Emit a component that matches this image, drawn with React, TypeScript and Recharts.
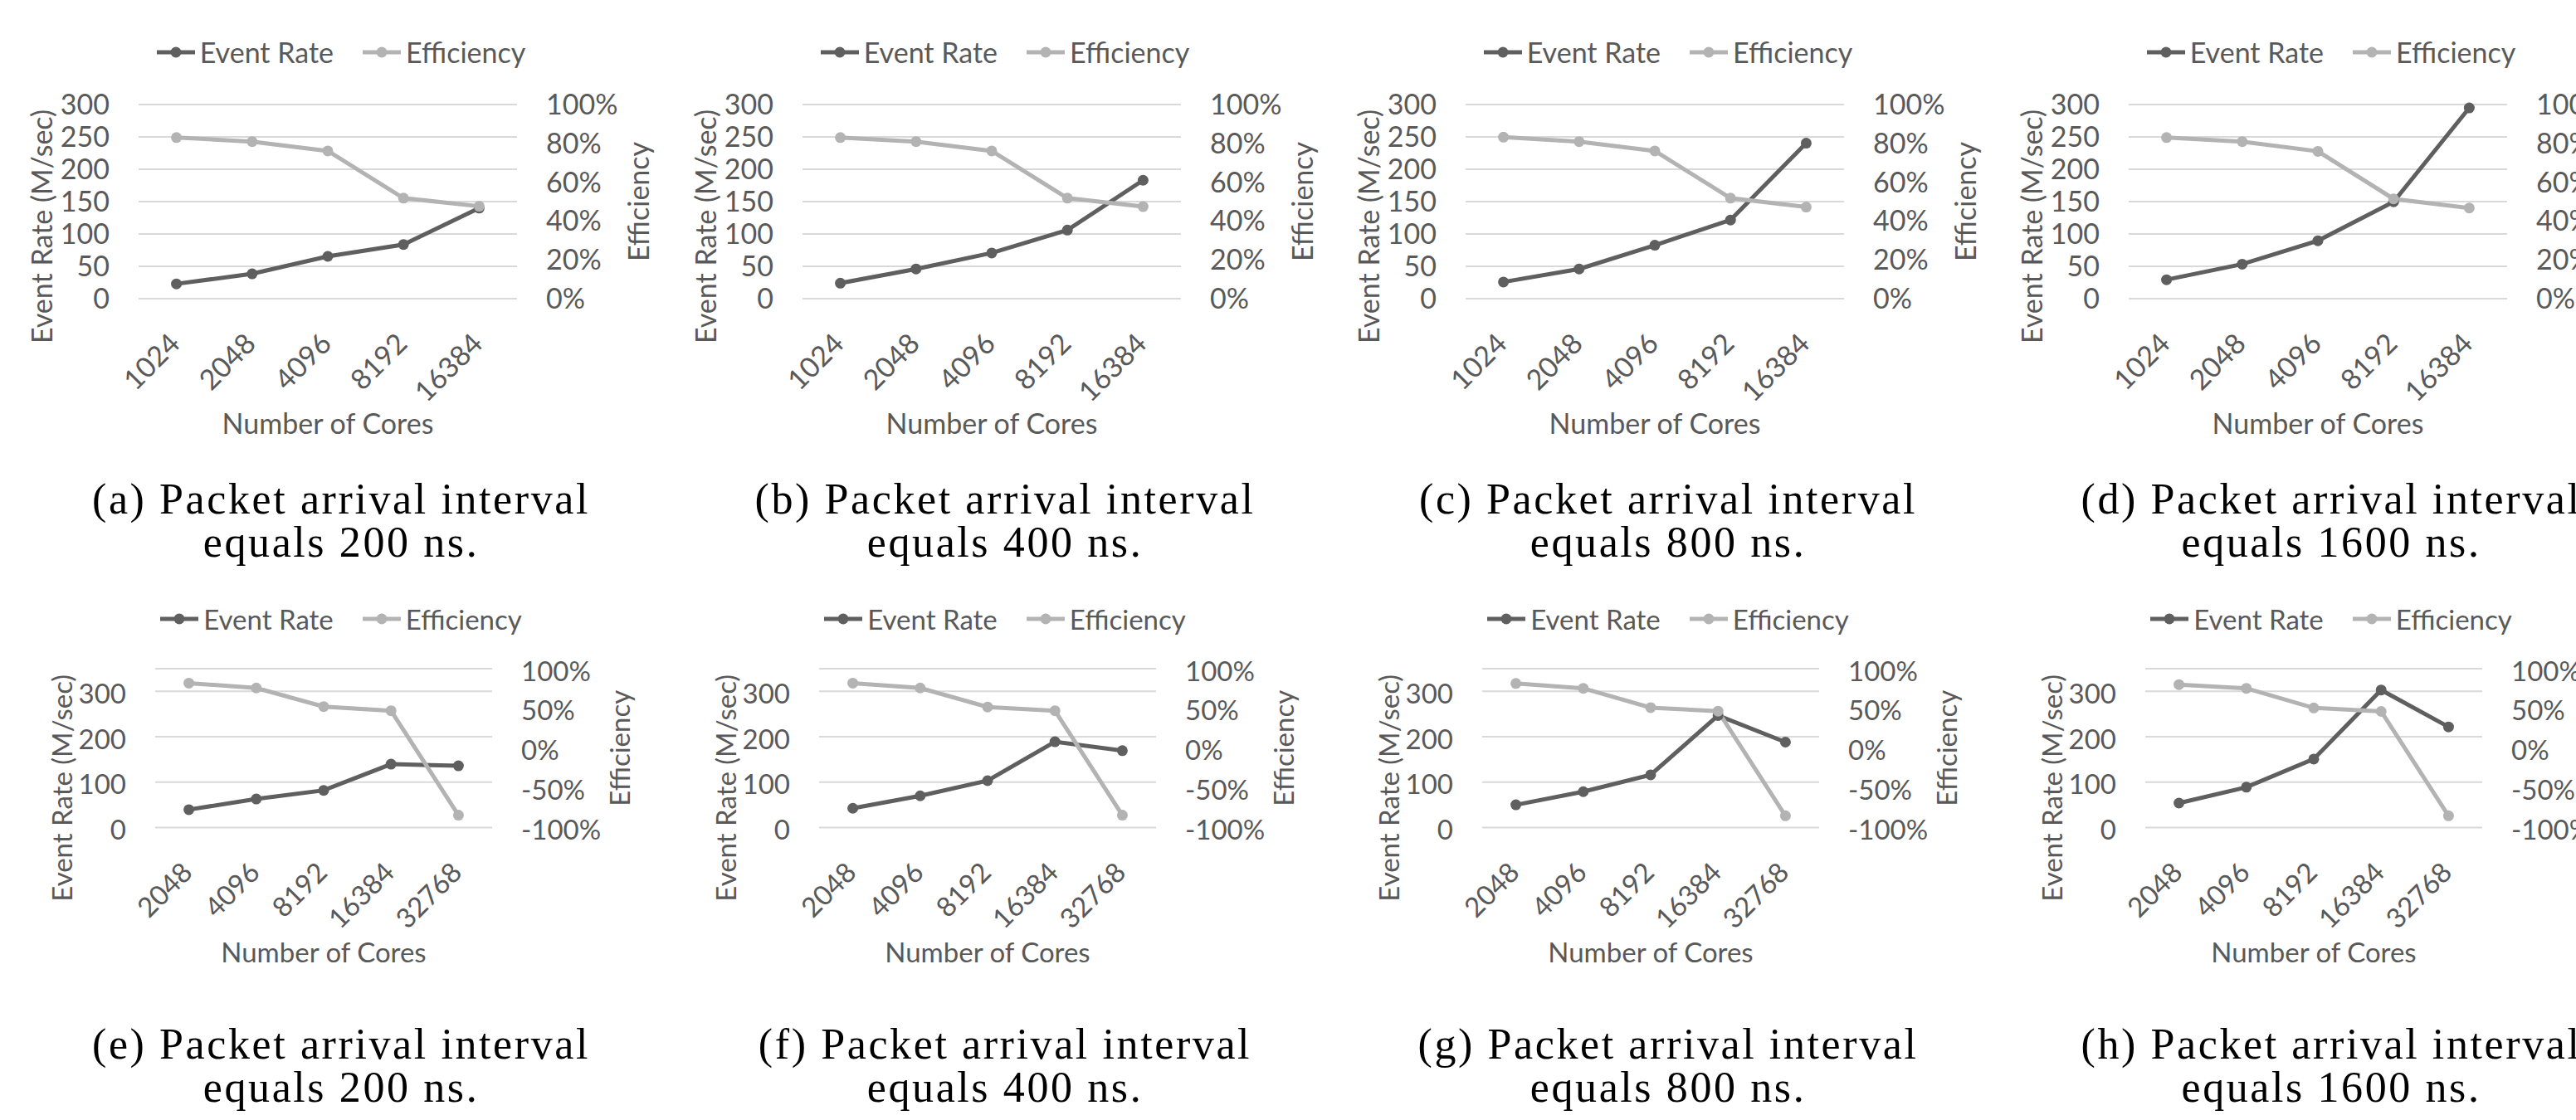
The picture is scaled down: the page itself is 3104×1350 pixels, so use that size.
import React from 'react';
import { LineChart, Line, XAxis, YAxis, CartesianGrid, Legend } from 'recharts';

// ---------- data ----------
const topCores = ['1024', '2048', '4096', '8192', '16384'];
const bottomCores = ['2048', '4096', '8192', '16384', '32768'];

const rateA = [22.9, 38.4, 65.4, 83.7, 140];
const rateB = [24, 45.9, 70.6, 106, 183];
const rateC = [25.8, 45.9, 82.6, 121.6, 240.3];
const rateD = [29.3, 53.3, 89.5, 149.7, 294.8];
const effA = [0.83, 0.809, 0.761, 0.518, 0.476];
const effB = [0.83, 0.809, 0.761, 0.518, 0.474];
const effC = [0.832, 0.809, 0.761, 0.518, 0.472];
const effD = [0.83, 0.809, 0.759, 0.514, 0.467];

const rateE = [39.5, 63, 82, 139.7, 136];
const rateF = [42.5, 69.9, 103.3, 189, 169.4];
const rateG = [50.1, 79, 116.2, 246.8, 188.3];
const rateH = [53.9, 88.9, 151, 303, 221.8];
const effE = [0.818, 0.757, 0.523, 0.471, -0.844];
const effF = [0.818, 0.757, 0.518, 0.471, -0.844];
const effG = [0.814, 0.753, 0.51, 0.466, -0.852];
const effH = [0.8, 0.753, 0.506, 0.462, -0.852];

const topRateTicks = [0, 50, 100, 150, 200, 250, 300];
const topEffTicks = [0, 0.2, 0.4, 0.6, 0.8, 1];
const bottomRateTicks = [0, 100, 200, 300];
const bottomEffTicks = [-1, -0.5, 0, 0.5, 1];

const seriesNames = ['Event Rate', 'Efficiency'];
const xTitle = 'Number of Cores';
const leftTitle = 'Event Rate (M/sec)';
const rightTitle = 'Efficiency';
const captionLetters = ['a', 'b', 'c', 'd', 'e', 'f', 'g', 'h'];
const intervals = [200, 400, 800, 1600, 200, 400, 800, 1600];

// ---------- style ----------
const SANS = "Lato, 'Open Sans', sans-serif";
const SERIF = "'Liberation Serif', 'Times New Roman', serif";
const TEXT = '#595959';
const RATE_COLOR = '#5f5f5f';
const EFF_COLOR = '#b3b3b3';
const GRID = '#d9d9d9';
const PANEL_X = [0, 800, 1599, 2398];

const TOP = {
  top: 0, chartH: 540, plotTop: 126, plotLeft: 167, plotRight: 623, plotBottom: 360,
  rateDomain: [0, 300], rateTicks: topRateTicks, effDomain: [0, 1], effTicks: topEffTicks,
  fs: 34, legendY: 63, leftTitleX: 51, leftTitleDy: 30, rightTitleDx: 147, captionTop: 576, tickDy: 0,
};
const BOTTOM = {
  top: 700, chartH: 480, plotTop: 106, plotLeft: 187, plotRight: 593, plotBottom: 297.5,
  rateDomain: [0, 350], rateTicks: bottomRateTicks, effDomain: [-1, 1], effTicks: bottomEffTicks,
  fs: 33, legendY: 45.6, leftTitleX: 75.5, leftTitleDy: 48, rightTitleDx: 154, captionTop: 1233, tickDy: 3,
};

const CHART_W = 800;

const pct = (v: number) => `${Math.round(v * 100)}%`;

function Panel({ idx, row, cores, rate, eff }: any) {
  const L = row;
  const px = PANEL_X[idx % 4];
  const data = cores.map((c: string, i: number) => ({ cores: c, rate: rate[i], eff: eff[i] }));
  const plotW = L.plotRight - L.plotLeft;
  const plotCx = (L.plotLeft + L.plotRight) / 2;
  const plotCy = (L.plotTop + L.plotBottom) / 2;

  const xTick = (props: any) => {
    const { x, y, payload } = props;
    const ax = x - 2;
    return (
      <text x={ax} y={y} transform={`rotate(-45, ${ax}, ${y})`} textAnchor="end" dy="0.35em"
        fill={TEXT} fontSize={L.fs} fontFamily={SANS}>{payload.value}</text>
    );
  };

  const yTick = (fmt: any) => (props: any) => {
    const { x, y, payload, textAnchor } = props;
    return (
      <text x={x} y={y + L.tickDy} textAnchor={textAnchor} dy="0.35em"
        fill={TEXT} fontSize={L.fs} fontFamily={SANS}>{fmt ? fmt(payload.value) : payload.value}</text>
    );
  };

  const legendContent = (props: any) => {
    const items = [...(props.payload || [])].sort(
      (a: any, b: any) => seriesNames.indexOf(a.value) - seriesNames.indexOf(b.value));
    return (
      <div style={{ display: 'flex', justifyContent: 'center', alignItems: 'center', height: 40,
        fontFamily: SANS, fontSize: L.fs, color: TEXT, lineHeight: '40px' }}>
        {items.map((e: any, i: number) => (
          <div key={i} style={{ display: 'flex', alignItems: 'center', marginRight: i === 0 ? 35 : 0 }}>
            <svg width={46} height={14} style={{ display: 'block' }}>
              <line x1={0} y1={7} x2={46} y2={7} stroke={e.color} strokeWidth={5} />
              <circle cx={23} cy={7} r={6.5} fill={e.color} />
            </svg>
            <span style={{ marginLeft: 6 }}>{e.value}</span>
          </div>
        ))}
      </div>
    );
  };

  return (
    <>
      <div style={{ position: 'absolute', left: px, top: L.top, width: CHART_W, height: L.chartH }}>
        <LineChart width={CHART_W} height={L.chartH} data={data}
          margin={{ top: L.plotTop, right: 0, bottom: 0, left: 0 }}>
          <CartesianGrid yAxisId="rate" vertical={false} stroke={GRID} strokeWidth={2} />
          <XAxis dataKey="cores" type="category" interval={0} height={L.chartH - L.plotBottom}
            padding={{ left: plotW / 10, right: plotW / 10 }}
            axisLine={false} tickLine={false} tickSize={0} tickMargin={48} tick={xTick}
            label={{ content: () => (
              <text x={plotCx} y={L.plotBottom + 151} textAnchor="middle" dy="0.35em"
                fill={TEXT} fontSize={L.fs} fontFamily={SANS}>{xTitle}</text>
            ) }} />
          <YAxis yAxisId="rate" orientation="left" width={L.plotLeft} domain={L.rateDomain}
            ticks={L.rateTicks} interval={0} axisLine={false} tickLine={false} tickSize={0} tickMargin={35}
            tick={yTick(null)}
            label={{ content: () => (
              <text x={L.leftTitleX} y={plotCy + L.leftTitleDy} textAnchor="middle" dy="0.35em"
                transform={`rotate(-90, ${L.leftTitleX}, ${plotCy + L.leftTitleDy})`}
                fill={TEXT} fontSize={L.fs} fontFamily={SANS}>{leftTitle}</text>
            ) }} />
          <YAxis yAxisId="eff" orientation="right" width={CHART_W - L.plotRight} domain={L.effDomain}
            ticks={L.effTicks} interval={0} axisLine={false} tickLine={false} tickSize={0} tickMargin={35}
            tick={yTick(pct)}
            label={{ content: () => (
              <text x={L.plotRight + L.rightTitleDx} y={plotCy} textAnchor="middle" dy="0.35em"
                transform={`rotate(-90, ${L.plotRight + L.rightTitleDx}, ${plotCy})`}
                fill={TEXT} fontSize={L.fs} fontFamily={SANS}>{rightTitle}</text>
            ) }} />
          <Legend layout="horizontal" verticalAlign="middle" align="center" content={legendContent}
            itemSorter={null as any}
            wrapperStyle={{ top: L.legendY - 20, left: 0, width: 822, height: 40 }} />
          <Line yAxisId="rate" name={seriesNames[0]} dataKey="rate" type="linear" stroke={RATE_COLOR}
            strokeWidth={5} dot={{ r: 6.5, fill: RATE_COLOR, stroke: RATE_COLOR, strokeWidth: 0 }}
            activeDot={false} isAnimationActive={false} />
          <Line yAxisId="eff" name={seriesNames[1]} dataKey="eff" type="linear" stroke={EFF_COLOR}
            strokeWidth={5} dot={{ r: 6.5, fill: EFF_COLOR, stroke: EFF_COLOR, strokeWidth: 0 }}
            activeDot={false} isAnimationActive={false} />
        </LineChart>
      </div>
      <div style={{ position: 'absolute', left: px + 11, top: L.captionTop, width: 800, textAlign: 'center',
        fontFamily: SERIF, fontSize: 52, lineHeight: '52px', letterSpacing: 2.6, color: '#000',
        whiteSpace: 'nowrap' }}>
        <div>({captionLetters[idx]}) Packet arrival interval</div>
        <div>equals {intervals[idx]} ns.</div>
      </div>
    </>
  );
}

export default function App() {
  return (
    <div style={{ position: 'absolute', left: 0, top: 0, width: 3104, height: 1350, overflow: 'hidden', background: '#fff' }}>
      <Panel idx={0} row={TOP} cores={topCores} rate={rateA} eff={effA} />
      <Panel idx={1} row={TOP} cores={topCores} rate={rateB} eff={effB} />
      <Panel idx={2} row={TOP} cores={topCores} rate={rateC} eff={effC} />
      <Panel idx={3} row={TOP} cores={topCores} rate={rateD} eff={effD} />
      <Panel idx={4} row={BOTTOM} cores={bottomCores} rate={rateE} eff={effE} />
      <Panel idx={5} row={BOTTOM} cores={bottomCores} rate={rateF} eff={effF} />
      <Panel idx={6} row={BOTTOM} cores={bottomCores} rate={rateG} eff={effG} />
      <Panel idx={7} row={BOTTOM} cores={bottomCores} rate={rateH} eff={effH} />
    </div>
  );
}
